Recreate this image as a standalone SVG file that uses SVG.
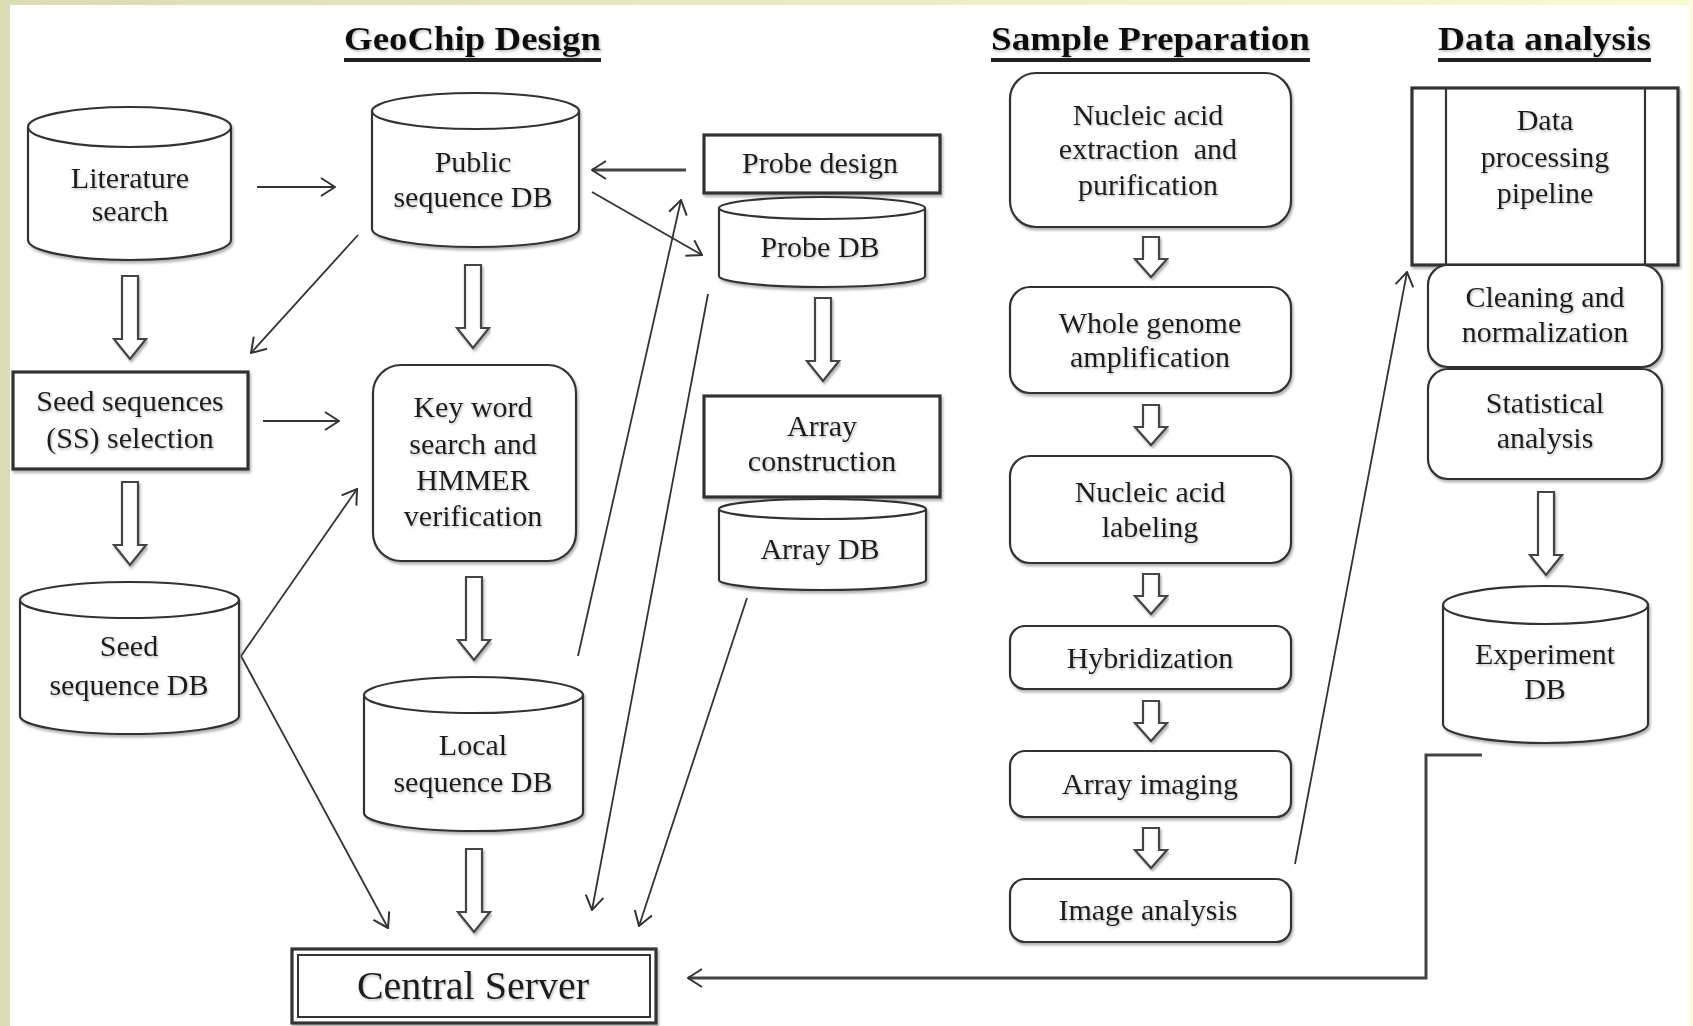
<svg xmlns="http://www.w3.org/2000/svg" xmlns:xlink="http://www.w3.org/1999/xlink" width="1693" height="1026" viewBox="0 0 1693 1026">
<defs>
<linearGradient id="topg" x1="0" y1="0" x2="1" y2="0">
<stop offset="0" stop-color="#dcdcb4"/><stop offset="1" stop-color="#fbfbd2"/>
</linearGradient>
<filter id="sh" x="-5%" y="-5%" width="110%" height="115%">
<feDropShadow dx="1.5" dy="2.5" stdDeviation="1.2" flood-color="#777" flood-opacity="0.55"/>
</filter>
<filter id="tsh" x="-5%" y="-10%" width="110%" height="130%">
<feDropShadow dx="1" dy="1.5" stdDeviation="0.8" flood-color="#888" flood-opacity="0.6"/>
</filter>
<marker id="ah" viewBox="0 0 16 20" refX="15" refY="10" markerWidth="16" markerHeight="20" markerUnits="userSpaceOnUse" orient="auto">
<path d="M1,1 L15,10 L1,19" fill="none" stroke="#333" stroke-width="2"/>
</marker>
<path id="blkS" d="M-8,0 H8 V22 H16 L0,40 L-16,22 H-8 Z"/>
<path id="blkL" d="M-8,0 H8 V63 H16 L0,83 L-16,63 H-8 Z"/>
</defs>
<style>
.bg{fill:#ffffff}
.shape{fill:#ffffff;stroke:#333;stroke-width:2.2;filter:url(#sh)}
.thick{fill:#ffffff;stroke:#333;stroke-width:3.2;filter:url(#sh)}
.blk{fill:#ffffff;stroke:#444;stroke-width:2.2;filter:url(#sh)}
.t{font-family:"Liberation Serif","Times New Roman",serif;font-size:30px;fill:#1a1a1a;text-anchor:middle;filter:url(#tsh);white-space:pre}
.h{font-family:"Liberation Serif","Times New Roman",serif;font-size:33px;font-weight:bold;fill:#111;filter:url(#tsh)}
.ul{stroke:#222;stroke-width:4}
.c{fill:none;stroke:#333;stroke-width:1.8;marker-end:url(#ah)}
.c3{fill:none;stroke:#444;stroke-width:3;marker-end:url(#ah)}
</style>
<rect class="bg" x="0" y="0" width="1693" height="1026"/>
<rect x="0" y="0" width="1693" height="5" fill="url(#topg)"/>
<rect x="0" y="0" width="10" height="1026" fill="#dcdcb4"/>
<rect x="1689" y="0" width="4" height="1026" fill="#fcfcd6"/>

<g id="headings">
<text class="h" x="344" y="50" textLength="257" lengthAdjust="spacingAndGlyphs">GeoChip Design</text>
<line class="ul" x1="344" y1="60" x2="601" y2="60"/>
<text class="h" x="991" y="50" textLength="319" lengthAdjust="spacingAndGlyphs">Sample Preparation</text>
<line class="ul" x1="991" y1="60" x2="1310" y2="60"/>
<text class="h" x="1438" y="50" textLength="213" lengthAdjust="spacingAndGlyphs">Data analysis</text>
<line class="ul" x1="1438" y1="60" x2="1651" y2="60"/>
</g>

<g id="connectors">
<line class="c" x1="257" y1="187" x2="335" y2="187"/>
<line class="c3" x1="686" y1="170" x2="592" y2="170"/>
<line class="c" x1="592" y1="192" x2="702" y2="255"/>
<line class="c" x1="358" y1="235" x2="251" y2="353"/>
<line class="c" x1="263" y1="421" x2="339" y2="421"/>
<line class="c" x1="241" y1="656" x2="357" y2="489"/>
<line class="c" x1="241" y1="656" x2="388" y2="928"/>
<line class="c" x1="578" y1="656" x2="681" y2="200"/>
<line class="c" x1="708" y1="294" x2="592" y2="910"/>
<line class="c" x1="747" y1="598" x2="639" y2="926"/>
<line class="c" x1="1295" y1="864" x2="1407" y2="272"/>
<polyline class="c3" points="1482,755 1426,755 1426,978 688,978"/>
<use href="#blkL" class="blk" x="130" y="276"/>
<use href="#blkL" class="blk" x="473" y="265"/>
<use href="#blkL" class="blk" x="130" y="482"/>
<use href="#blkL" class="blk" x="474" y="577"/>
<use href="#blkL" class="blk" x="474" y="849"/>
<use href="#blkL" class="blk" x="823" y="298"/>
<use href="#blkL" class="blk" x="1546" y="492"/>
<use href="#blkS" class="blk" x="1151" y="237"/>
<use href="#blkS" class="blk" x="1151" y="405"/>
<use href="#blkS" class="blk" x="1151" y="574"/>
<use href="#blkS" class="blk" x="1151" y="701"/>
<use href="#blkS" class="blk" x="1151" y="828"/>
</g>

<g id="literature">
<path class="shape" d="M28,127 V240 A101.5,20 0 0 0 231,240 V127 A101.5,20 0 0 0 28,127 A101.5,20 0 0 0 231,127"/>
<text class="t" x="130" y="188">Literature</text>
<text class="t" x="130" y="221">search</text>
</g>

<g id="public-db">
<path class="shape" d="M372,111 V229 A103.5,18 0 0 0 579,229 V111 A103.5,18 0 0 0 372,111 A103.5,18 0 0 0 579,111"/>
<text class="t" x="473" y="172">Public</text>
<text class="t" x="473" y="207">sequence DB</text>
</g>

<g id="probe-design">
<rect class="thick" x="704" y="135" width="236" height="58"/>
<text class="t" x="820" y="173">Probe design</text>
</g>

<g id="probe-db">
<path class="shape" d="M719,208 V276 A103,11 0 0 0 925,276 V208 A103,11 0 0 0 719,208 A103,11 0 0 0 925,208"/>
<text class="t" x="820" y="257">Probe DB</text>
</g>

<g id="seed-selection">
<rect class="thick" x="13" y="372" width="235" height="97"/>
<text class="t" x="130" y="411">Seed sequences</text>
<text class="t" x="130" y="448">(SS) selection</text>
</g>

<g id="keyword">
<rect class="shape" x="373" y="365" width="203" height="196" rx="28" ry="28"/>
<text class="t" x="473" y="417">Key word</text>
<text class="t" x="473" y="454">search and</text>
<text class="t" x="473" y="490">HMMER</text>
<text class="t" x="473" y="526">verification</text>
</g>

<g id="array-construction">
<rect class="thick" x="704" y="396" width="236" height="101"/>
<text class="t" x="822" y="436">Array</text>
<text class="t" x="822" y="471">construction</text>
</g>

<g id="array-db">
<path class="shape" d="M719,509 V580 A103.5,10 0 0 0 926,580 V509 A103.5,10 0 0 0 719,509 A103.5,10 0 0 0 926,509"/>
<text class="t" x="820" y="559">Array DB</text>
</g>

<g id="seed-db">
<path class="shape" d="M20,600 V716 A109.5,18 0 0 0 239,716 V600 A109.5,18 0 0 0 20,600 A109.5,18 0 0 0 239,600"/>
<text class="t" x="129" y="656">Seed</text>
<text class="t" x="129" y="695">sequence DB</text>
</g>

<g id="local-db">
<path class="shape" d="M364,695 V813 A109.5,18 0 0 0 583,813 V695 A109.5,18 0 0 0 364,695 A109.5,18 0 0 0 583,695"/>
<text class="t" x="473" y="755">Local</text>
<text class="t" x="473" y="792">sequence DB</text>
</g>

<g id="central-server">
<rect class="thick" x="292" y="949" width="364" height="74"/>
<rect fill="none" stroke="#333" stroke-width="2" x="298" y="955" width="352" height="62"/>
<text class="t" x="473" y="999" style="font-size:40px">Central Server</text>
</g>

<g id="extraction">
<rect class="shape" x="1010" y="73" width="281" height="154" rx="26" ry="26"/>
<text class="t" x="1148" y="125">Nucleic acid</text>
<text class="t" x="1148" y="159">extraction  and</text>
<text class="t" x="1148" y="195">purification</text>
</g>

<g id="amplification">
<rect class="shape" x="1010" y="287" width="281" height="106" rx="20" ry="20"/>
<text class="t" x="1150" y="333">Whole genome</text>
<text class="t" x="1150" y="367">amplification</text>
</g>

<g id="labeling">
<rect class="shape" x="1010" y="456" width="281" height="107" rx="20" ry="20"/>
<text class="t" x="1150" y="502">Nucleic acid</text>
<text class="t" x="1150" y="537">labeling</text>
</g>

<g id="hybridization">
<rect class="shape" x="1010" y="626" width="281" height="63" rx="15" ry="15"/>
<text class="t" x="1150" y="668">Hybridization</text>
</g>

<g id="array-imaging">
<rect class="shape" x="1010" y="751" width="281" height="66" rx="15" ry="15"/>
<text class="t" x="1150" y="794">Array imaging</text>
</g>

<g id="image-analysis">
<rect class="shape" x="1010" y="879" width="281" height="63" rx="15" ry="15"/>
<text class="t" x="1148" y="920">Image analysis</text>
</g>

<g id="pipeline">
<rect class="thick" x="1412" y="88" width="266" height="177"/>
<line x1="1446" y1="88" x2="1446" y2="265" stroke="#333" stroke-width="2.2"/>
<line x1="1645" y1="88" x2="1645" y2="265" stroke="#333" stroke-width="2.2"/>
<text class="t" x="1545" y="130">Data</text>
<text class="t" x="1545" y="167">processing</text>
<text class="t" x="1545" y="203">pipeline</text>
</g>

<g id="cleaning">
<rect class="shape" x="1428" y="265" width="234" height="102" rx="20" ry="20"/>
<text class="t" x="1545" y="307">Cleaning and</text>
<text class="t" x="1545" y="342">normalization</text>
</g>

<g id="statistical">
<rect class="shape" x="1428" y="369" width="234" height="110" rx="20" ry="20"/>
<text class="t" x="1545" y="413">Statistical</text>
<text class="t" x="1545" y="448">analysis</text>
</g>

<g id="experiment-db">
<path class="shape" d="M1443,605 V724 A102.5,19 0 0 0 1648,724 V605 A102.5,19 0 0 0 1443,605 A102.5,19 0 0 0 1648,605"/>
<text class="t" x="1545" y="664">Experiment</text>
<text class="t" x="1545" y="699">DB</text>
</g>
</svg>
